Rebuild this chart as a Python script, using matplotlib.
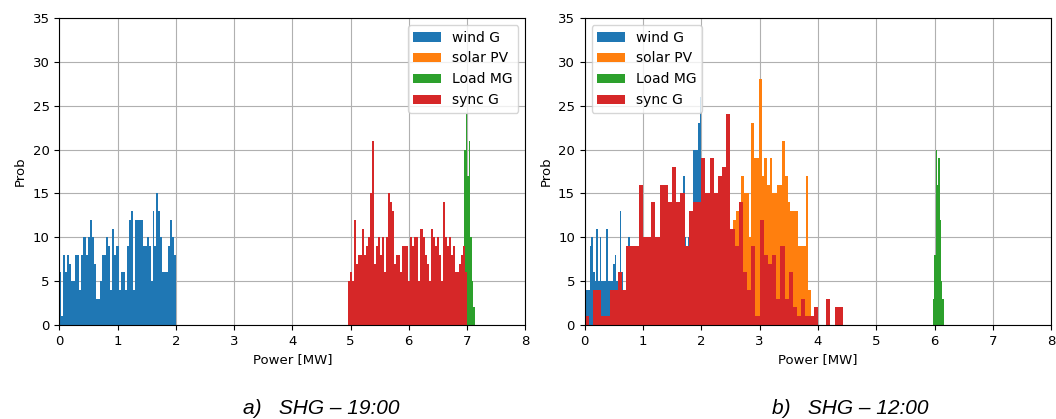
import numpy as np
import matplotlib
matplotlib.use("Agg")
import matplotlib.pyplot as plt
from matplotlib.patches import Patch

# ---------------- data ----------------
series_names = ["wind G", "solar PV", "Load MG", "sync G"]
series_colors = ["#1f77b4", "#ff7f0e", "#2ca02c", "#d62728"]

# panel a) SHG - 19:00  (histogram counts, bin ranges in MW)
wind_a_range = (0.0, 2.0)
wind_a = [6, 1, 8, 6, 8, 7, 5, 5, 8, 8,
          4, 8, 10, 10, 8, 10, 12, 10, 7, 3,
          3, 5, 8, 8, 10, 9, 4, 11, 8, 9,
          9, 4, 6, 6, 4, 9, 12, 13, 4, 12,
          12, 12, 12, 9, 9, 10, 9, 5, 13, 9,
          15, 13, 10, 6, 6, 6, 9, 12, 10, 8]
solar_a_range = (0.0, 0.0)
solar_a = []
load_a_range = (6.93, 7.13)
load_a = [8, 20, 24, 17, 21, 10, 5, 2]
sync_a_range = (4.96, 7.0)
sync_a = [5, 6, 5, 12, 7, 8, 8, 11, 8, 9,
          10, 15, 21, 7, 9, 10, 8, 10, 6, 10,
          15, 14, 13, 7, 8, 8, 6, 9, 9, 9,
          5, 10, 9, 10, 10, 5, 11, 11, 10, 8,
          7, 5, 11, 10, 9, 10, 8, 5, 14, 10,
          9, 10, 8, 9, 6, 6, 7, 8, 9, 6]

# panel b) SHG - 12:00
wind_b_range = (0.0, 2.0)
wind_b = [10, 4, 4, 9, 10, 6, 5, 11, 5, 10,
          5, 5, 5, 11, 5, 5, 5, 7, 8, 5,
          6, 13, 6, 4, 4, 9, 10,
          8, 8, 7, 8, 8, 9, 8, 7, 8, 9,
          9, 8, 7, 8, 9, 8, 8, 9, 9, 8,
          9, 8, 8, 9, 8, 9, 8, 9, 8, 8,
          9, 8,
          17, 10, 9, 10, 10, 10, 20, 20, 20, 23, 26]
solar_b_range = (2.55, 3.88)
solar_b = [12, 13, 14, 17, 15, 15, 10, 23, 19, 19,
           28, 17, 19, 16, 19, 15, 15, 16, 16, 21,
           17, 14, 13, 13, 13, 9, 9, 9, 17, 4]
load_b_range = (5.97, 6.16)
load_b = [3, 8, 20, 16, 19, 12, 5, 3]
sync_b_range = (0.0, 62 / 14)
sync_b = [1, 0, 4, 4, 1, 1, 4, 4, 6, 4,
          9, 9, 9, 16, 10, 10, 14, 10, 16, 16,
          14, 18, 14, 15, 9, 13, 14, 14, 19, 15,
          19, 15, 17, 18, 24, 11, 9, 14, 6, 4,
          9, 1, 12, 8, 7, 8, 3, 9, 3, 6,
          2, 1, 3, 1, 1, 2, 0, 0, 3, 0,
          2, 2]

captions = ["a)   SHG \u2013 19:00", "b)   SHG \u2013 12:00"]
x_ticks = [0, 1, 2, 3, 4, 5, 6, 7, 8]
y_ticks = [0, 5, 10, 15, 20, 25, 30, 35]

panels = [
    [(wind_a_range, wind_a), (solar_a_range, solar_a), (load_a_range, load_a), (sync_a_range, sync_a)],
    [(wind_b_range, wind_b), (solar_b_range, solar_b), (load_b_range, load_b), (sync_b_range, sync_b)],
]

# ---------------- figure ----------------
W, H = 1056, 419
fig = plt.figure(figsize=(W / 100, H / 100), dpi=100)
plt.rcParams["font.family"] = ["DejaVu Sans"]

ax_rects = [
    [59.3 / W, (H - 325) / H, 466.0 / W, 307.0 / H],
    [584.7 / W, (H - 325) / H, 466.4 / W, 307.0 / H],
]
legend_locs = ["upper right", "upper left"]
caption_x = [321 / W, 850 / W]

for p, (rect, data) in enumerate(zip(ax_rects, panels)):
    ax = fig.add_axes(rect)
    ax.set_axisbelow(True)
    ax.grid(True, color="#b0b0b0", linewidth=0.8)
    for (rng, vals), col in zip(data, series_colors):
        if len(vals) == 0:
            continue
        edges = np.linspace(rng[0], rng[1], len(vals) + 1)
        ax.bar(edges[:-1], vals, width=np.diff(edges), align="edge",
               color=col, linewidth=0)
    ax.set_xlim(0, 8)
    ax.set_ylim(0, 35)
    ax.set_xticks(x_ticks)
    ax.set_yticks(y_ticks)
    ax.tick_params(labelsize=9.5)
    ax.set_xlabel("Power [MW]", fontsize=9.5)
    ax.set_ylabel("Prob", fontsize=9.5)
    handles = [Patch(facecolor=c, edgecolor="none", label=n)
               for n, c in zip(series_names, series_colors)]
    ax.legend(handles=handles, loc=legend_locs[p], fontsize=10,
              framealpha=0.8)
    fig.text(caption_x[p], 1 - 408 / H, captions[p], ha="center", va="center",
             fontsize=15, style="italic", family=["Liberation Sans", "DejaVu Sans"])

fig.savefig("out.png", dpi=100)
